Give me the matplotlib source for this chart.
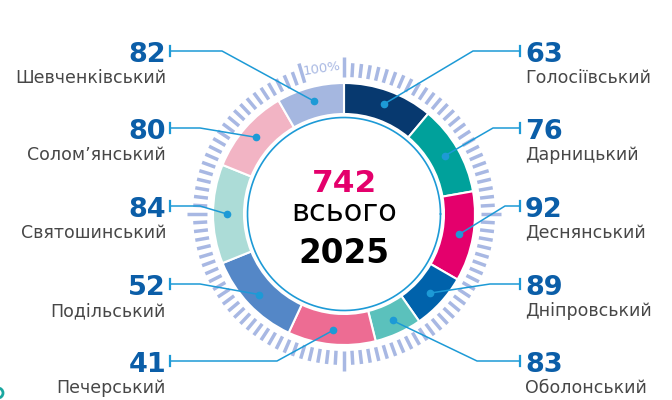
import matplotlib
matplotlib.use("Agg")
import matplotlib.pyplot as plt
import numpy as np

# districts, clockwise from the top of the ring
names = ['Голосіївський', 'Дарницький', 'Деснянський', 'Дніпровський', 'Оболонський',
         'Печерський', 'Подільський', 'Святошинський', 'Солом’янський', 'Шевченківський']
values = [63, 76, 92, 89, 83, 41, 52, 84, 80, 82]
# the ring segments are not proportional to the values, so their spans (degrees) are read off the picture
segment_deg = [40, 40, 40, 25, 21, 39, 43, 44, 38, 30]
colors = ['#07396f', '#00a19b', '#e4006c', '#0062ab', '#5bc1bc',
          '#ed6c93', '#5487c7', '#acdcd7', '#f2b4c4', '#a5b7e0']
total = 742
year = 2025

blue_line = '#1d9ad6'
num_col = '#0b5ea8'
tick_col = '#a8b8e3'

cx, cy = 344, 214
r_out, r_in = 131, 100

fig = plt.figure(figsize=(6.72, 4), dpi=100)
ax = fig.add_axes([0, 0, 1, 1])

# ring (y axis is inverted below, so counterclock in data = clockwise on screen)
ax.pie(segment_deg, colors=colors, startangle=270, counterclock=True,
       center=(cx, cy), radius=r_out, frame=True,
       wedgeprops=dict(width=r_out - r_in, edgecolor='white', linewidth=1.5))

ax.set_xlim(0, 672)
ax.set_ylim(400, 0)
ax.set_aspect('equal')
ax.axis('off')

# inner thin circle
t = np.linspace(0, 2 * np.pi, 400)
ax.plot(cx + 96.5 * np.cos(t), cy + 96.5 * np.sin(t), color=blue_line, lw=1.2)

# outer tick marks
step = 360 / 108
for k in range(108):
    a = k * step
    if 360 - 16.0 < a < 359.9:
        continue
    long_tick = (k % 27 == 0) or k == 103
    r2 = 157 if long_tick else 151
    ra = np.radians(a)
    ax.plot([cx + 137 * np.sin(ra), cx + r2 * np.sin(ra)],
            [cy - 137 * np.cos(ra), cy - r2 * np.cos(ra)],
            color=tick_col, lw=2.5, solid_capstyle='butt')
ax.text(cx - 147 * np.sin(np.radians(8.5)), cy - 147 * np.cos(np.radians(8.5)), '100%',
        color=tick_col, fontsize=9.5, rotation=8.5, ha='center', va='center')

# centre text
ax.text(cx, 192, str(total), color='#e4006c', fontsize=22.5, fontweight='bold',
        ha='center', va='baseline')
ax.text(cx, 221, 'всього', color='black', fontsize=22, ha='center', va='baseline')
ax.text(cx, 263, str(year), color='black', fontsize=23.5, fontweight='bold',
        ha='center', va='baseline')

# labels and leader lines
levels = [51, 128, 206, 284, 361]
right_kink = [473, 493, 505, 490, 477]
left_kink = [222, 200, 200, 200, 277]
starts = np.cumsum([0] + segment_deg[:-1])
for i in range(10):
    mid = np.radians(starts[i] + segment_deg[i] / 2)
    dx, dy = cx + 117 * np.sin(mid), cy - 117 * np.cos(mid)
    if i < 5:
        lv = levels[i]
        xe, xk, ha, xt = 520, right_kink[i], 'left', 525
    else:
        lv = levels[9 - i]
        xe, xk, ha, xt = 170, left_kink[9 - i], 'right', 166
    ax.plot([xe, xk, dx], [lv, lv, dy], color=blue_line, lw=1.1)
    ax.plot([xe, xe], [lv - 5, lv + 5], color=blue_line, lw=1.6)
    ax.plot(dx, dy, 'o', color=blue_line, ms=4.5)
    ax.text(xt, lv + 11, str(values[i]), color=num_col, fontsize=19.5,
            fontweight='bold', ha=ha, va='baseline')
    ax.text(xt, lv + 32, names[i], color='#474747', fontsize=12.5,
            ha=ha, va='baseline')

# partial teal mark at bottom-left corner
ax.add_patch(plt.Circle((-2, 393), 5, fill=False, ec='#1aa7a0', lw=2))

fig.savefig('out.png', dpi=100)
